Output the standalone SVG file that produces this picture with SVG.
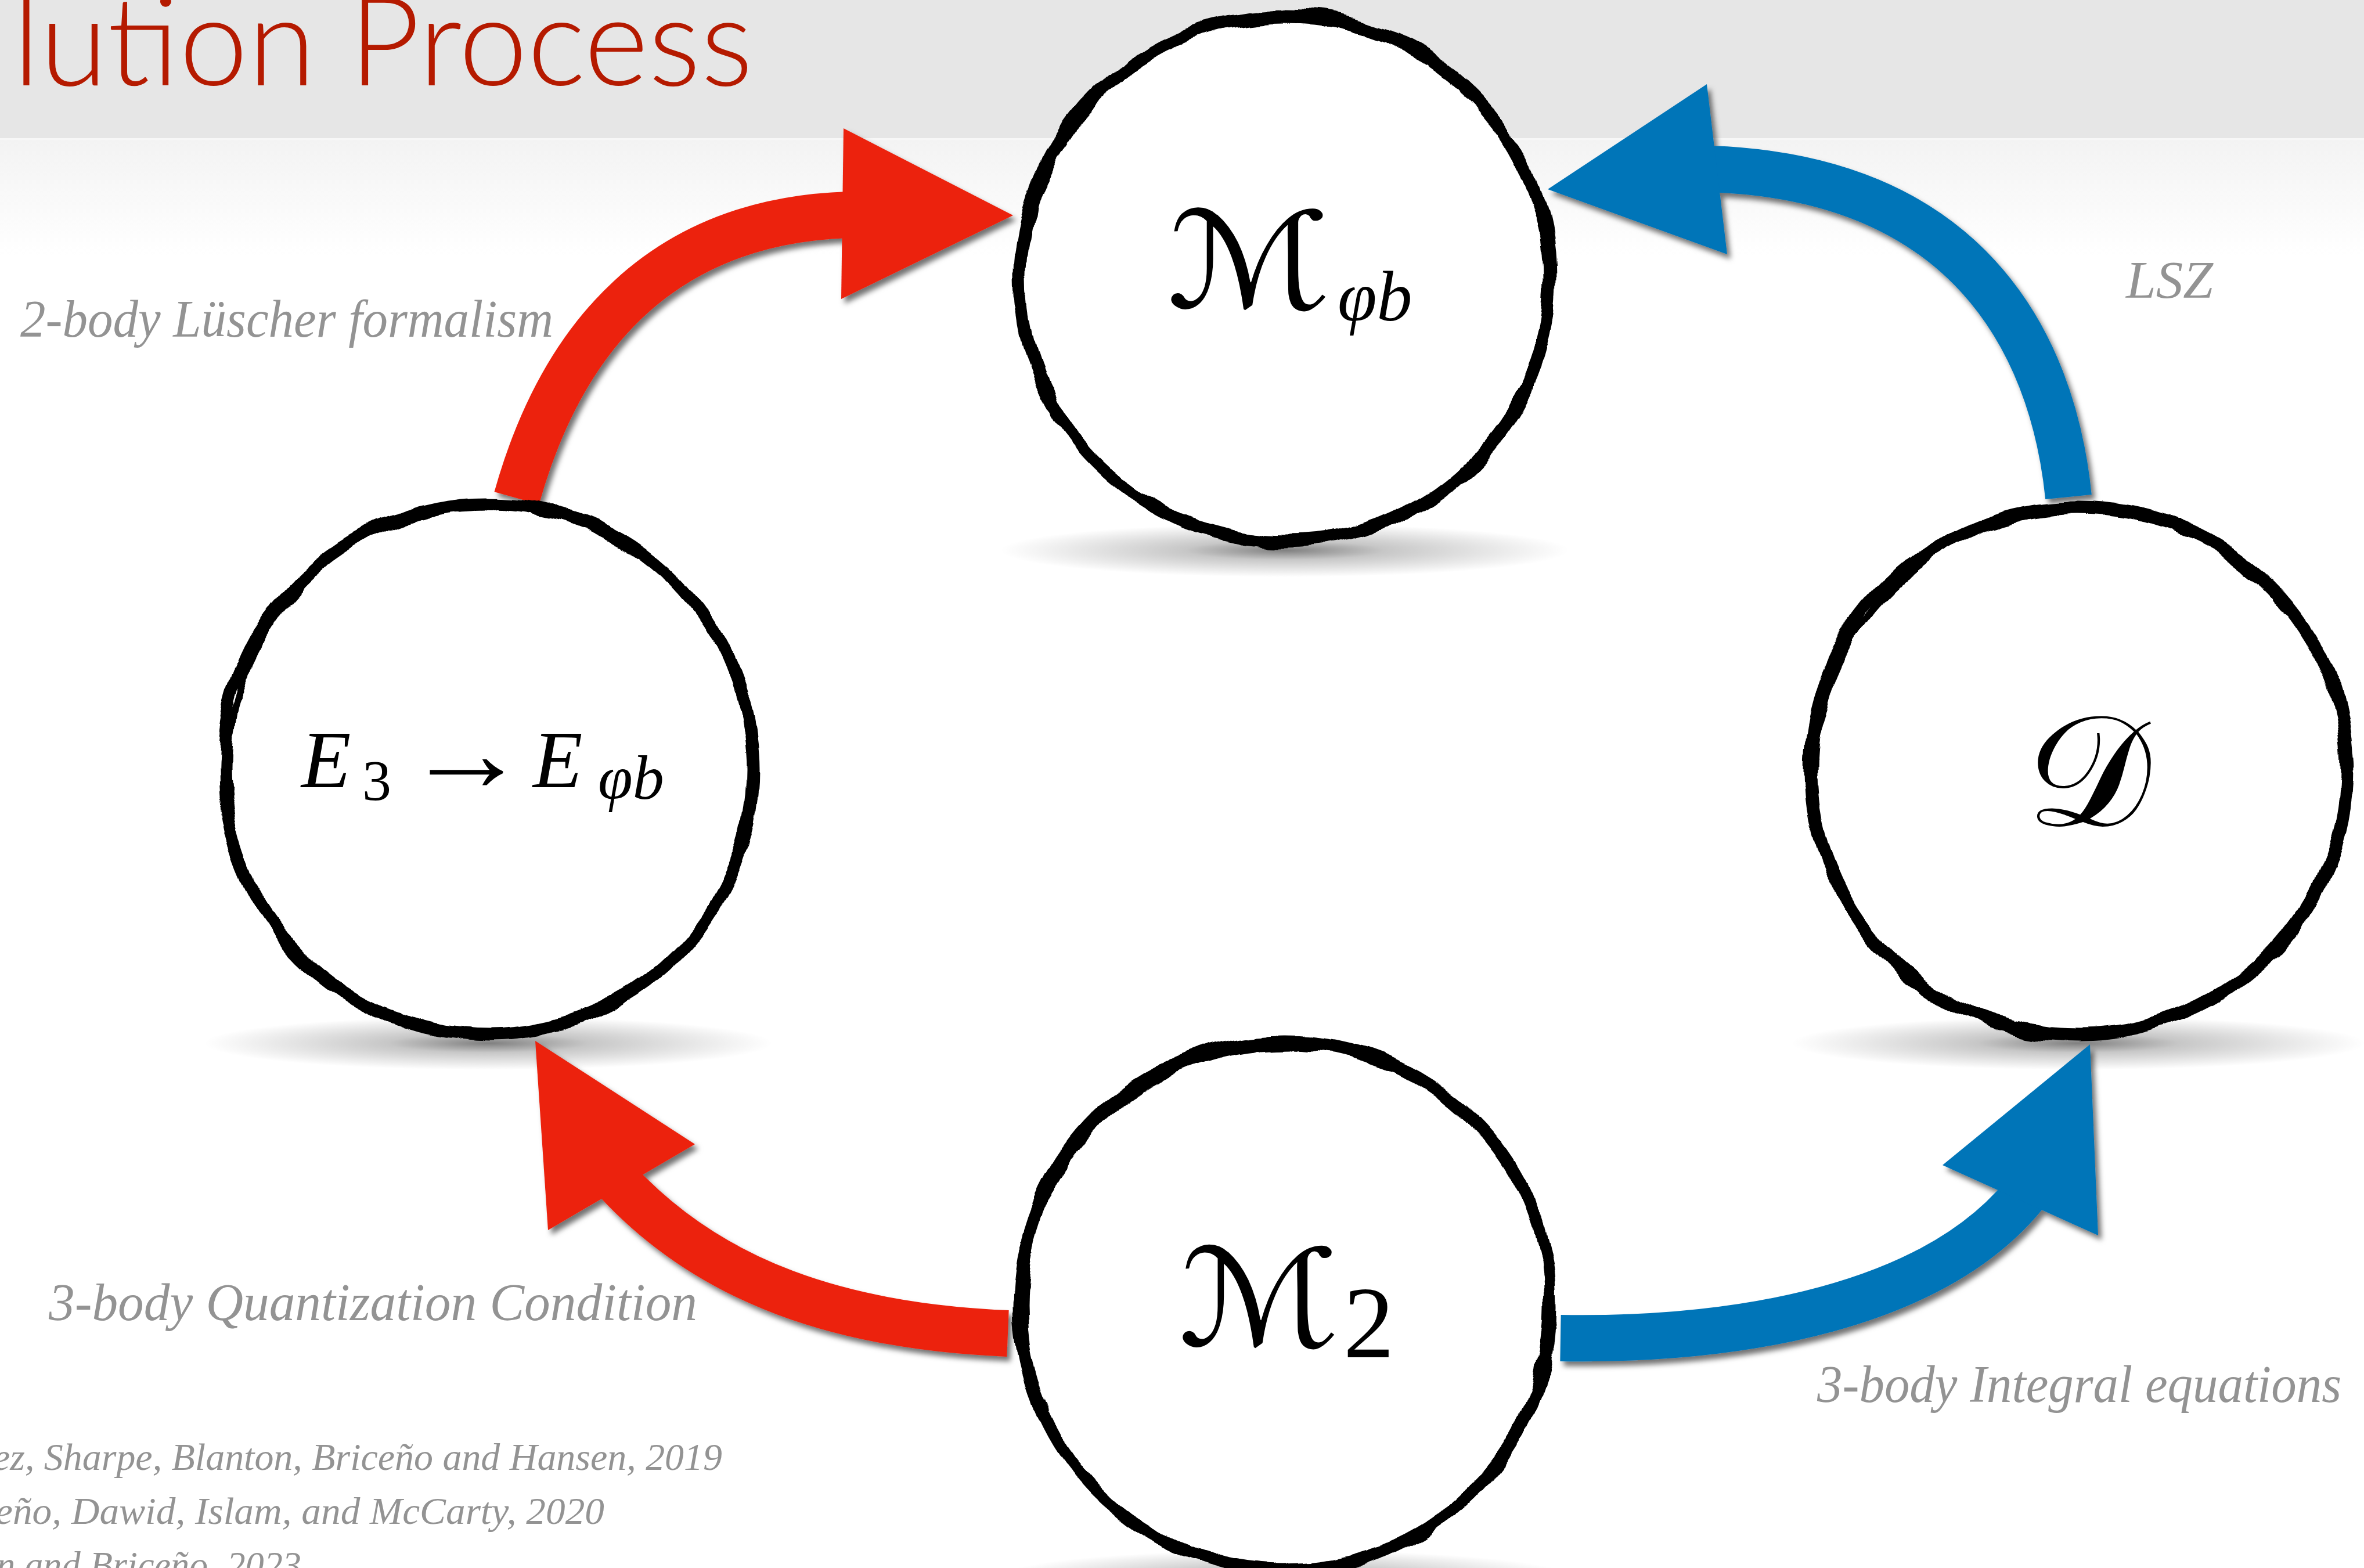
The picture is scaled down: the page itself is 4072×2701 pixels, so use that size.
<svg xmlns="http://www.w3.org/2000/svg" width="4072" height="2701" viewBox="0 0 4072 2701">
<style>
.lbl{font-family:"Liberation Serif",serif;font-style:italic;fill:#939393;}
.ref{font-family:"Liberation Serif",serif;font-style:italic;fill:#939393;font-size:66px;}
.math{font-family:"Liberation Serif","DejaVu Serif",serif;font-style:italic;fill:#000;}
.mrm{font-family:"Liberation Serif","DejaVu Serif",serif;fill:#000;}
.cal{font-family:"DejaVu Serif","DejaVu Sans",serif;fill:#000;}
.ring{fill:#fff;stroke:#000;stroke-width:21;}
.ring2{fill:none;stroke:#000;stroke-width:13;}
.red{fill:#ec2310;}
.redS{fill:none;stroke:#ec2310;stroke-width:80;}
.blue{fill:#0074b8;}
.blueS{fill:none;stroke:#0074b8;stroke-width:80;}
</style>
<defs>
<linearGradient id="bgfade" x1="0" y1="0" x2="0" y2="1">
<stop offset="0" stop-color="#f3f3f3"/><stop offset="1" stop-color="#ffffff"/>
</linearGradient>
<radialGradient id="shadow" cx="0.5" cy="0.5" r="0.5">
<stop offset="0" stop-color="#000" stop-opacity="0.5"/>
<stop offset="0.35" stop-color="#000" stop-opacity="0.22"/>
<stop offset="1" stop-color="#000" stop-opacity="0"/>
</radialGradient>
<filter id="rough" x="-5%" y="-5%" width="110%" height="110%">
<feTurbulence type="fractalNoise" baseFrequency="0.009" numOctaves="2" seed="4" result="n"/>
<feDisplacementMap in="SourceGraphic" in2="n" scale="26" xChannelSelector="R" yChannelSelector="G"/>
</filter>
<filter id="rough2" x="-5%" y="-5%" width="110%" height="110%">
<feTurbulence type="fractalNoise" baseFrequency="0.012" numOctaves="2" seed="11" result="n"/>
<feDisplacementMap in="SourceGraphic" in2="n" scale="30" xChannelSelector="G" yChannelSelector="R"/>
</filter>
<filter id="drop" x="-10%" y="-10%" width="130%" height="130%">
<feDropShadow dx="6" dy="8" stdDeviation="5" flood-color="#000" flood-opacity="0.55"/>
</filter>
</defs>

<!-- background -->
<rect x="0" y="0" width="4072" height="2701" fill="#fff"/>
<rect x="0" y="0" width="4072" height="239" fill="#e6e6e6"/>
<rect x="0" y="239" width="4072" height="200" fill="url(#bgfade)"/>
<rect x="0" y="238" width="4072" height="3" fill="#f7f7f7"/>

<!-- title -->
<text x="22" y="147" font-family="Lato,'Open Sans',sans-serif" font-weight="300" font-size="213" fill="#b51a00" textLength="1275" lengthAdjust="spacingAndGlyphs">lution Process</text>

<!-- shadows -->
<g id="shadows">
<ellipse cx="2213" cy="948" rx="490" ry="46" fill="url(#shadow)"/>
<ellipse cx="841" cy="1797" rx="490" ry="46" fill="url(#shadow)"/>
<ellipse cx="3580" cy="1797" rx="495" ry="46" fill="url(#shadow)"/>
<ellipse cx="2213" cy="2716" rx="490" ry="46" fill="url(#shadow)"/>
</g>

<!-- connectors -->
<g id="connectors">
<g id="arrow-luscher" filter="url(#drop)">
<path class="redS" d="M 890 858 C 968 580, 1140 380, 1462 370"/>
<polygon class="red" points="1453,221 1745,371 1449,515"/>
</g>
<g id="arrow-lsz" filter="url(#drop)">
<path class="blueS" d="M 3563 856 C 3535 580, 3380 305, 2945 291"/>
<polygon class="blue" points="2940,145 2666,326 2975,438"/>
</g>
<g id="arrow-qc" filter="url(#drop)">
<path class="redS" d="M 1736 2297 C 1450 2285, 1225 2210, 1062 2034"/>
<polygon class="red" points="922,1793 1197,1971 944,2119"/>
</g>
<g id="arrow-int" filter="url(#drop)">
<path class="blueS" d="M 2688 2305 C 3000 2310, 3330 2250, 3487 2058"/>
<polygon class="blue" points="3600,1799 3346,2007 3614,2128"/>
</g>
</g>

<!-- nodes -->
<g id="node-Mphib">
<ellipse class="ring" cx="2213" cy="480" rx="457" ry="453" filter="url(#rough)"/>
<ellipse class="ring2" cx="2216" cy="483" rx="455" ry="451" filter="url(#rough2)"/>
<text class="cal" x="0" y="0" font-size="230" transform="translate(2010,530) scale(1.15,1)">ℳ</text>
<text class="math" x="2304" y="552" font-size="122">φb</text>
</g>

<g id="node-E3">
<ellipse class="ring" cx="841" cy="1324" rx="456" ry="458" filter="url(#rough)"/>
<ellipse class="ring2" cx="844" cy="1327" rx="454" ry="456" filter="url(#rough2)"/>
<text class="math" x="519" y="1356" font-size="140">E</text>
<text class="mrm" x="624" y="1378" font-size="100">3</text>
<text class="mrm" x="0" y="0" font-size="190" transform="translate(697,1362) scale(1.12,1)">→</text>
<text class="math" x="918" y="1356" font-size="140">E</text>
<text class="math" x="1030" y="1376" font-size="108">φb</text>
</g>

<g id="node-D">
<ellipse class="ring" cx="3580" cy="1328" rx="462" ry="454" filter="url(#rough)"/>
<ellipse class="ring2" cx="3583" cy="1331" rx="460" ry="452" filter="url(#rough2)"/>
<text class="cal" x="3597" y="1422" font-size="270" text-anchor="middle">𝒟</text>
</g>

<g id="node-M2">
<ellipse class="ring" cx="2213" cy="2249" rx="457" ry="455" filter="url(#rough)"/>
<ellipse class="ring2" cx="2216" cy="2252" rx="455" ry="453" filter="url(#rough2)"/>
<text class="cal" x="0" y="0" font-size="232" transform="translate(2030,2318) scale(1.12,1)">ℳ</text>
<text class="mrm" x="2314" y="2338" font-size="175">2</text>
</g>

<!-- labels -->
<g id="labels">
<text class="lbl" x="35" y="580" font-size="90" textLength="918" lengthAdjust="spacingAndGlyphs">2-body Lüscher formalism</text>
<text class="lbl" x="3662" y="513" font-size="90" textLength="150" lengthAdjust="spacingAndGlyphs">LSZ</text>
<text class="lbl" x="84" y="2274" font-size="90" textLength="1117" lengthAdjust="spacingAndGlyphs">3-body Quantization Condition</text>
<text class="lbl" x="3130" y="2415" font-size="90" textLength="903" lengthAdjust="spacingAndGlyphs">3-body Integral equations</text>
<text class="ref" x="-12" y="2532" textLength="1256" lengthAdjust="spacingAndGlyphs">ez, Sharpe, Blanton, Briceño and Hansen, 2019</text>
<text class="ref" x="-8" y="2625" textLength="1049" lengthAdjust="spacingAndGlyphs">eño, Dawid, Islam, and McCarty, 2020</text>
<text class="ref" x="-6" y="2718" textLength="525" lengthAdjust="spacingAndGlyphs">n and Briceño, 2023</text>
</g>
</svg>
